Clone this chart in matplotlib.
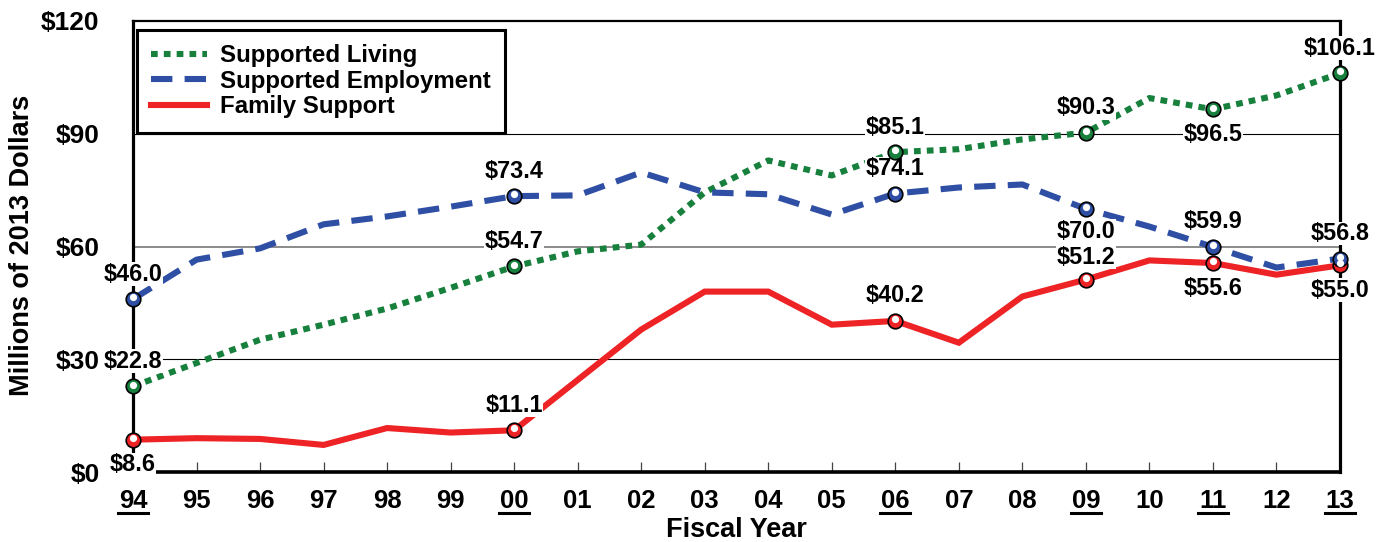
import matplotlib
matplotlib.use("Agg")
import matplotlib.pyplot as plt
from matplotlib.transforms import offset_copy, blended_transform_factory
from matplotlib.lines import Line2D

plt.rcParams['font.family'] = ['Liberation Sans', 'DejaVu Sans']
plt.rcParams['font.weight'] = 'bold'

years = ["94", "95", "96", "97", "98", "99", "00", "01", "02", "03",
         "04", "05", "06", "07", "08", "09", "10", "11", "12", "13"]
underlined = ["94", "00", "06", "09", "11", "13"]

supported_living = [22.8, 29.0, 35.2, 39.2, 43.5, 49.0, 54.7, 58.7, 60.5, 74.4,
                    82.9, 78.9, 85.1, 85.9, 88.5, 90.3, 99.5, 96.5, 100.2, 106.1]
supported_employment = [46.0, 56.5, 59.5, 65.9, 68.0, 70.6, 73.4, 73.6, 79.7, 74.4,
                        73.9, 68.5, 74.1, 75.7, 76.5, 70.0, 65.3, 59.9, 54.4, 56.8]
family_support = [8.6, 9.0, 8.8, 7.2, 11.7, 10.5, 11.1, 24.5, 37.9, 48.0,
                  48.0, 39.2, 40.2, 34.4, 46.7, 51.2, 56.3, 55.6, 52.5, 55.0]

# label placement: +1 above marker, -1 below marker
sl_pos = {"94": 1, "00": 1, "06": 1, "09": 1, "11": -1, "13": 1}
se_pos = {"94": 1, "00": 1, "06": 1, "09": -1, "11": 1, "13": 1}
fs_pos = {"94": -1, "00": 1, "06": 1, "09": 1, "11": -1, "13": -1}

GREEN = "#17803d"
BLUE = "#2f4fa5"
RED = "#ee2326"

fig = plt.figure(figsize=(13.8, 5.42), dpi=100)
ax = fig.add_axes([133/1380, 1-472/542, (1340-133)/1380, 451/542])

x = list(range(len(years)))
ax.set_xlim(0, len(years)-1)
ax.set_ylim(0, 120)

# grid lines
for v, c, lw in [(30, "black", 0.8), (60, "#777777", 1.2), (90, "black", 0.8)]:
    ax.axhline(v, color=c, lw=lw, zorder=1)

ax.plot(x, family_support, color=RED, lw=4.4, solid_joinstyle='miter',
        label="Family Support", zorder=3, clip_on=False)
ax.plot(x, supported_living, color=GREEN, lw=4.4, linestyle=(0, (1.1, 1.0)),
        dash_capstyle='butt', label="Supported Living", zorder=3, clip_on=False)
ax.plot(x, supported_employment, color=BLUE, lw=4.4, linestyle=(0, (3.5, 2.0)),
        dash_capstyle='butt', label="Supported Employment", zorder=3, clip_on=False)

hl = offset_copy(ax.transData, fig=fig, x=0, y=1.3, units='points')

def markers(vals, color, pos):
    idx = [years.index(k) for k in underlined]
    ys = [vals[i] for i in idx]
    ax.plot(idx, ys, 'o', ms=10.5, mfc=color, mec='black', mew=1.2,
            zorder=6, clip_on=False)
    ax.plot(idx, ys, 'o', ms=5.2, mfc='white', mec='none', transform=hl,
            zorder=7, clip_on=False)
    for i in idx:
        d = pos[years[i]]
        off = 16.0 if years[i] == "09" and d * (1 if color == RED else -1) > 0 else 18.0
        ax.annotate(f"${vals[i]:.1f}", (i, vals[i]), xytext=(0, off*d),
                    textcoords='offset points', ha='center', va='center',
                    fontsize=16.8, fontweight='bold', zorder=5,
                    bbox=dict(facecolor='white', edgecolor='none', pad=0.3),
                    annotation_clip=False)

markers(family_support, RED, fs_pos)
markers(supported_living, GREEN, sl_pos)
markers(supported_employment, BLUE, se_pos)

# spines
ax.spines['left'].set_linewidth(2.3)
ax.spines['bottom'].set_linewidth(2.6)
ax.spines['top'].set_linewidth(1.6)
ax.spines['right'].set_linewidth(2.3)
for s in ax.spines.values():
    s.set_zorder(2)

ax.set_yticks([0, 30, 60, 90, 120])
ax.set_yticklabels(["$0", "$30", "$60", "$90", "$120"])
ax.tick_params(axis='y', length=0, pad=24, labelsize=19)
ax.set_xticks(x)
ax.set_xticklabels(years)
ax.tick_params(axis='x', direction='in', length=7.2, width=0.9, color='#444444',
               pad=12, labelsize=18.5)
for lab in ax.get_xticklabels() + ax.get_yticklabels():
    lab.set_fontweight('bold')

# underline selected years
tr = blended_transform_factory(ax.transData, ax.transAxes)
yy = -(513-472)/451
for k in underlined:
    i = years.index(k)
    ax.add_line(Line2D([i-0.235, i+0.235], [yy, yy], transform=tr, color='black',
                       lw=2.2, clip_on=False))

fig.text(736/1380, 1-530/542, "Fiscal Year", ha='center', va='center',
         fontsize=19.5, fontweight='bold')
fig.text(22/1380, 1-245/542, "Millions of 2013 Dollars", ha='center', va='center',
         rotation=90, fontsize=19.5, fontweight='bold')

h, l = ax.get_legend_handles_labels()
order = [1, 2, 0]
leg = ax.legend([h[i] for i in order], [l[i] for i in order],
                loc='upper left', bbox_to_anchor=(0.0033, 0.98),
                prop=dict(size=17.3, weight='bold'), frameon=True, fancybox=False,
                framealpha=1, edgecolor='black', handlelength=2.3,
                handletextpad=0.55, labelspacing=0.1, borderpad=0.6,
                borderaxespad=0)
leg.get_frame().set_linewidth(2.2)
leg.set_zorder(10)

fig.savefig("out.png", dpi=100)
